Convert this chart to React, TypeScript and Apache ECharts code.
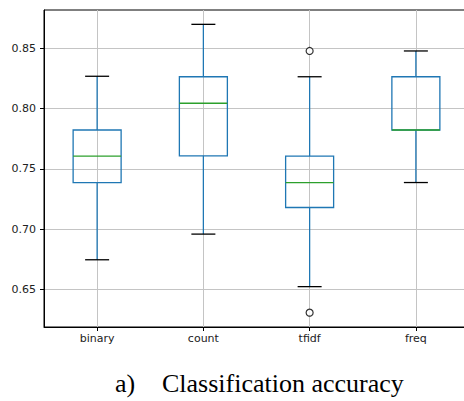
import React, { useEffect, useRef } from "react";
import * as echarts from "echarts";

const categories = ["binary", "count", "tfidf", "freq"];
// [lowWhisker, q1, median, q3, highWhisker]
const boxStats = [
  [0.6745, 0.7386, 0.7605, 0.7822, 0.8268],
  [0.6958, 0.7608, 0.8044, 0.8264, 0.8699],
  [0.6522, 0.7179, 0.7386, 0.7605, 0.8264],
  [0.7386, 0.7822, 0.7822, 0.8264, 0.8478],
];
// [categoryIndex, value]
const outliers = [
  [2, 0.8478],
  [2, 0.6306],
];
const yTicks = [0.65, 0.7, 0.75, 0.8, 0.85];
const yMin = 0.6187;
const yMax = 0.8818;

const BLUE = "#1f77b4";
const GREEN = "#2ca02c";

export default function App() {
  const ref = useRef<HTMLDivElement>(null);
  useEffect(() => {
    if (!ref.current) return;
    const chart = echarts.init(ref.current, null, { renderer: "svg" });
    const xs = categories.map((_, i) => i + 1);
    const boxData = boxStats.map((s, i) => [i + 1, ...s]);
    const outData = outliers.map(([c, v]) => [c + 1, v]);
    chart.setOption({
      animation: false,
      backgroundColor: "#ffffff",
      grid: {
        left: 44,
        top: 10,
        width: 425,
        height: 317,
        show: true,
        borderColor: "#000000",
        borderWidth: 1,
        backgroundColor: "transparent",
        containLabel: false,
        outerBoundsMode: "none",
      },
      xAxis: {
        type: "value",
        min: 0.5,
        max: 4.5,
        axisLine: { show: true, lineStyle: { color: "#000", width: 1 } },
        axisTick: { show: true, customValues: xs, length: 4, lineStyle: { color: "#000" } },
        axisLabel: {
          customValues: xs,
          formatter: (v: number) => categories[Math.round(v) - 1] ?? "",
          fontFamily: "DejaVu Sans",
          fontSize: 11,
          color: "#222",
          margin: 6,
        },
        splitLine: { show: true, lineStyle: { color: "#c4c4c4", width: 1 } },
      },
      yAxis: {
        type: "value",
        min: yMin,
        max: yMax,
        axisLine: { show: true, lineStyle: { color: "#000", width: 1 } },
        axisTick: { show: true, customValues: yTicks, length: 4, lineStyle: { color: "#000" } },
        axisLabel: {
          customValues: yTicks,
          formatter: (v: number) => v.toFixed(2),
          fontFamily: "DejaVu Sans",
          fontSize: 11,
          color: "#222",
          margin: 8,
        },
        splitLine: { show: true, lineStyle: { color: "#c4c4c4", width: 1 } },
      },
      series: [
        {
          type: "custom",
          data: boxData,
          encode: { x: 0, y: [1, 2, 3, 4, 5] },
          renderItem: (params: any, api: any) => {
            const x = api.value(0);
            const lo = api.coord([x, api.value(1)]);
            const q1 = api.coord([x, api.value(2)]);
            const md = api.coord([x, api.value(3)]);
            const q3 = api.coord([x, api.value(4)]);
            const hi = api.coord([x, api.value(5)]);
            const cx = lo[0];
            const bw = 48;
            const cw = 24;
            const lw = 1.3;
            return {
              type: "group",
              children: [
                { type: "line", shape: { x1: cx, y1: lo[1], x2: cx, y2: q1[1] }, style: { stroke: BLUE, lineWidth: lw } },
                { type: "line", shape: { x1: cx, y1: q3[1], x2: cx, y2: hi[1] }, style: { stroke: BLUE, lineWidth: lw } },
                {
                  type: "rect",
                  shape: { x: cx - bw / 2, y: q3[1], width: bw, height: q1[1] - q3[1] },
                  style: { stroke: BLUE, fill: "none", lineWidth: lw },
                },
                { type: "line", shape: { x1: cx - bw / 2, y1: md[1], x2: cx + bw / 2, y2: md[1] }, style: { stroke: GREEN, lineWidth: lw } },
                { type: "line", shape: { x1: cx - cw / 2, y1: lo[1], x2: cx + cw / 2, y2: lo[1] }, style: { stroke: "#000", lineWidth: lw } },
                { type: "line", shape: { x1: cx - cw / 2, y1: hi[1], x2: cx + cw / 2, y2: hi[1] }, style: { stroke: "#000", lineWidth: lw } },
              ],
            };
          },
          z: 3,
        },
        {
          type: "scatter",
          data: outData,
          symbol: "circle",
          symbolSize: 7,
          itemStyle: { color: "#ffffff", borderColor: "#000", borderWidth: 1.2 },
          z: 4,
        },
      ],
      graphic: [
        {
          type: "text",
          left: 115,
          top: 370,
          style: { text: "a)", font: "26px 'Liberation Serif'", fill: "#000" },
        },
        {
          type: "text",
          left: 162,
          top: 370,
          style: { text: "Classification accuracy", font: "26px 'Liberation Serif'", fill: "#000" },
        },
      ],
    });
    return () => chart.dispose();
  }, []);
  return (
    <div
      ref={ref}
      style={{ position: "fixed", left: 0, top: 0, width: 464, height: 401, background: "#fff" }}
    />
  );
}
